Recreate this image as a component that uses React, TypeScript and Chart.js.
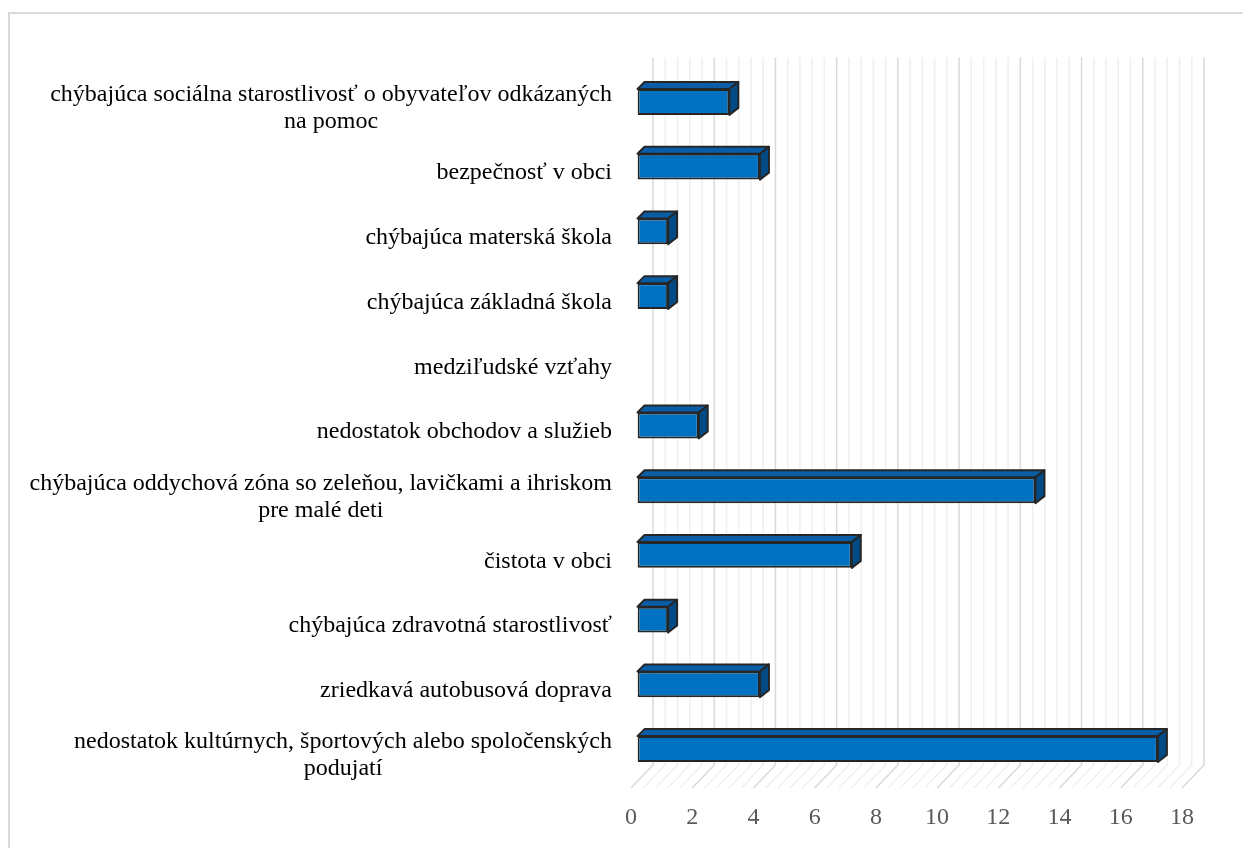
import React, { useEffect, useRef } from 'react';
import { Chart, registerables } from 'chart.js';

Chart.register(...registerables);

const categories: string[][] = [
  ['chýbajúca sociálna starostlivosť o obyvateľov odkázaných', 'na pomoc'],
  ['bezpečnosť v obci'],
  ['chýbajúca materská škola'],
  ['chýbajúca základná škola'],
  ['medziľudské vzťahy'],
  ['nedostatok obchodov a služieb'],
  ['chýbajúca oddychová zóna so zeleňou, lavičkami a ihriskom', 'pre malé deti'],
  ['čistota v obci'],
  ['chýbajúca zdravotná starostlivosť'],
  ['zriedkavá autobusová doprava'],
  ['nedostatok kultúrnych, športových alebo spoločenských', 'podujatí'],
];

const values: number[] = [3, 4, 1, 1, 0, 2, 13, 7, 1, 4, 17];

const xTickLabels: number[] = [0, 2, 4, 6, 8, 10, 12, 14, 16, 18];

const X_MIN = 0;
const X_MAX = 18;
const MINOR_STEP = 0.4;

// 3D offsets relative to the bar plane
const FX = -6.5;
const FY = 6.5;
const BX = 15.5;
const BY = -16.5;

const FONT = '"Liberation Serif", "Times New Roman", serif';

const wall3d = {
  id: 'wall3d',
  beforeDatasetsDraw(chart: any) {
    const { ctx, chartArea: ca, scales } = chart;
    const x = scales.x;
    const wallTop = ca.top - 12;
    const frontBottom = ca.bottom + FY;
    const backBottom = ca.bottom + BY;
    const n = Math.round((X_MAX - X_MIN) / MINOR_STEP);
    ctx.save();
    ctx.lineWidth = 1.5;
    for (const pass of [0, 1]) {
      for (let k = 0; k <= n; k++) {
        const major = k % 5 === 0;
        if ((pass === 1) !== major) continue;
        const v = X_MIN + k * MINOR_STEP;
        const px = x.getPixelForValue(v);
        ctx.strokeStyle = major ? '#d9d9d9' : '#efefef';
        ctx.beginPath();
        ctx.moveTo(px + BX, wallTop);
        ctx.lineTo(px + BX, backBottom);
        ctx.lineTo(px + FX, frontBottom);
        ctx.stroke();
      }
    }
    ctx.restore();
  },
  afterDatasetsDraw(chart: any) {
    const { ctx } = chart;
    const meta = chart.getDatasetMeta(0);
    ctx.save();
    ctx.lineWidth = 2;
    ctx.lineJoin = 'round';
    ctx.strokeStyle = '#262626';
    meta.data.forEach((el: any, i: number) => {
      if (!values[i]) return;
      const p = el.getProps(['x', 'y', 'base', 'height'], true);
      const x0 = Math.min(p.base, p.x);
      const x1 = Math.max(p.base, p.x);
      const yt = p.y - p.height / 2;
      const yb = p.y + p.height / 2;
      const dl = 7, dr = 9, dy = -7;
      // top face
      ctx.fillStyle = '#095da6';
      ctx.beginPath();
      ctx.moveTo(x0, yt);
      ctx.lineTo(x0 + dl, yt + dy);
      ctx.lineTo(x1 + dr, yt + dy);
      ctx.lineTo(x1, yt);
      ctx.closePath();
      ctx.fill();
      ctx.stroke();
      // side face
      ctx.fillStyle = '#004a86';
      ctx.beginPath();
      ctx.moveTo(x1, yt);
      ctx.lineTo(x1 + dr, yt + dy);
      ctx.lineTo(x1 + dr, yb + dy);
      ctx.lineTo(x1, yb);
      ctx.closePath();
      ctx.fill();
      ctx.stroke();
    });
    ctx.restore();
  },
  afterDraw(chart: any) {
    const { ctx, chartArea: ca, scales } = chart;
    const x = scales.x;
    const y = scales.y;
    ctx.save();
    // category labels
    ctx.font = `24px ${FONT}`;
    ctx.fillStyle = '#000000';
    ctx.textAlign = 'center';
    ctx.textBaseline = 'middle';
    const rightEdge = x.getPixelForValue(X_MIN) + FX - 19;
    const lh = 27;
    categories.forEach((lines, i) => {
      const cy = y.getPixelForValue(i) + FY;
      const maxW = Math.max(...lines.map((l) => ctx.measureText(l).width));
      const cx = rightEdge - maxW / 2;
      const startY = cy - ((lines.length - 1) * lh) / 2;
      lines.forEach((l, j) => ctx.fillText(l, cx, startY + j * lh));
    });
    // x tick labels
    ctx.fillStyle = '#595959';
    ctx.font = `24px ${FONT}`;
    const ty = ca.bottom + FY + 30;
    xTickLabels.forEach((v) => {
      ctx.fillText(String(v), x.getPixelForValue(v) + FX, ty);
    });
    ctx.restore();
  },
};

export default function App() {
  const ref = useRef<HTMLCanvasElement | null>(null);
  useEffect(() => {
    if (!ref.current) return;
    const chart = new Chart(ref.current, {
      type: 'bar',
      data: {
        labels: categories.map((c) => c.join(' ')),
        datasets: [
          {
            data: values,
            backgroundColor: '#0070c0',
            borderColor: '#262626',
            borderWidth: (c: any) => (c.raw ? 2 : 0),
            borderSkipped: false,
            barPercentage: 0.4,
            categoryPercentage: 1,
          },
        ],
      },
      options: {
        indexAxis: 'y',
        responsive: false,
        animation: false,
        layout: { padding: { left: 637.5, right: 54.5, top: 69.6, bottom: 66.6 } },
        plugins: { legend: { display: false }, tooltip: { enabled: false } },
        scales: {
          x: { type: 'linear', min: X_MIN, max: X_MAX, display: false },
          y: { type: 'category', display: false, offset: true },
        },
      },
      plugins: [wall3d],
    } as any);
    return () => chart.destroy();
  }, []);
  return (
    <div style={{ position: 'absolute', left: 0, top: 0, width: 1243, height: 848, overflow: 'hidden', background: '#ffffff' }}>
      <div
        style={{
          position: 'absolute',
          left: 8,
          top: 12,
          width: 1300,
          height: 900,
          border: '2px solid #d9d9d9',
          boxSizing: 'border-box',
        }}
      />
      <canvas ref={ref} width={1243} height={848} style={{ position: 'absolute', left: 0, top: 0 }} />
    </div>
  );
}
